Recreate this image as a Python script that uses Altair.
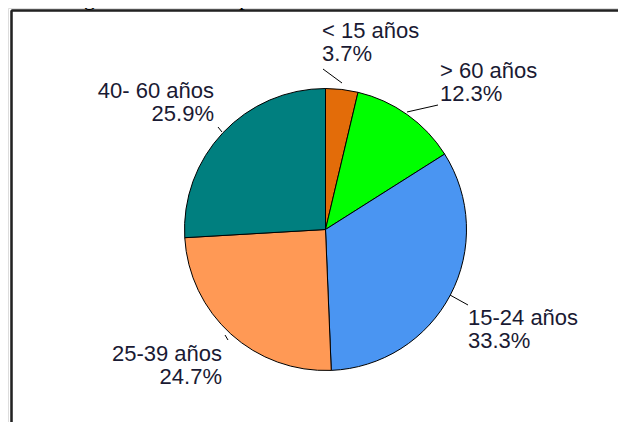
import altair as alt
import pandas as pd

# ---- data ----
categories = ["< 15 años", "> 60 años", "15-24 años", "25-39 años", "40- 60 años"]
percents = [3.7, 12.3, 33.3, 24.7, 25.9]
colors = ["#E36C09", "#00FF00", "#4A95F2", "#FF9955", "#007F7F"]
title_text = "Figura 4. Rango de edad de la población de individuos entrevistados"

# ---- layout (pixels) ----
W, H = 610, 414
CX, CY = 317.5, 221.5   # pie centre inside the chart
R = 141
FONT = "Liberation Sans"
TXT = "#1a1a33"

# label anchor offsets from the pie centre (first-line baseline) and alignment
label_dx = [-3.5, 114.5, 142.5, -103.5, -111.5]
label_dy = [-191.5, -151.5, 95.5, 131.5, -131.5]
label_align = ["left", "left", "left", "right", "right"]

# leader line segments (offsets from centre)
lead_x1 = [-2.5, 112.5, 124.5, -100.5, -107.5]
lead_y1 = [-160.5, -124.5, 65.5, 105.5, -102.5]
lead_x2 = [16.5, 81.5, 142.5, -97.5, -103.5]
lead_y2 = [-146.5, -117.5, 75.5, 110.5, -97.5]

df = pd.DataFrame({
    "cat": categories,
    "pct": percents,
    "order": list(range(len(categories))),
})
df["label"] = [f"{c}\n{p}%" for c, p in zip(categories, percents)]

lab = df.copy()
lab["lx"] = [CX + d for d in label_dx]
lab["ly"] = [CY + d for d in label_dy]
lab["align"] = label_align

lead = pd.DataFrame({
    "x1": [CX + v for v in lead_x1], "y1": [CY + v for v in lead_y1],
    "x2": [CX + v for v in lead_x2], "y2": [CY + v for v in lead_y2],
})

pie = alt.Chart(df).mark_arc(radius=R, stroke="black", strokeWidth=1).encode(
    theta=alt.Theta("pct:Q", stack=True),
    color=alt.Color("cat:N", scale=alt.Scale(domain=categories, range=colors), legend=None),
    order=alt.Order("order:Q"),
    x=alt.value(CX),
    y=alt.value(CY),
)

def text_layer(align):
    return alt.Chart(lab).transform_filter(
        alt.datum.align == align
    ).mark_text(
        align=align, baseline="alphabetic", font=FONT, fontSize=22,
        lineBreak="\n", lineHeight=23, color=TXT,
    ).encode(
        x=alt.X("lx:Q", scale=None),
        y=alt.Y("ly:Q", scale=None),
        text="label:N",
    )

leaders = alt.Chart(lead).mark_rule(color="black", strokeWidth=1).encode(
    x=alt.X("x1:Q", scale=None), y=alt.Y("y1:Q", scale=None),
    x2="x2:Q", y2="y2:Q",
)

frame_left = alt.Chart(df).mark_rule(color="#222222", strokeWidth=1.5).encode(
    x=alt.value(3.5), y=alt.value(2.5), y2=alt.value(H + 8)
)
frame_top = alt.Chart(df).mark_rule(color="#222222", strokeWidth=1.5).encode(
    x=alt.value(3.5), x2=alt.value(W + 8), y=alt.value(2.5)
)

# caption of the figure, cut off by the top edge as in the original
title = alt.Chart(pd.DataFrame({"t": [title_text]})).mark_text(
    align="left", baseline="alphabetic", font="Liberation Serif", fontSize=23, color="black"
).encode(x=alt.value(-50), y=alt.value(-3), text="t:N")

chart = alt.layer(
    pie, leaders, text_layer("left"), text_layer("right"), frame_left, frame_top, title
).properties(
    width=W, height=H, padding=0, autosize=alt.AutoSizeParams(type="none")
).configure_view(stroke=None).configure(background="white")

chart.save("out.html", embed_options={"renderer": "svg", "actions": False})
